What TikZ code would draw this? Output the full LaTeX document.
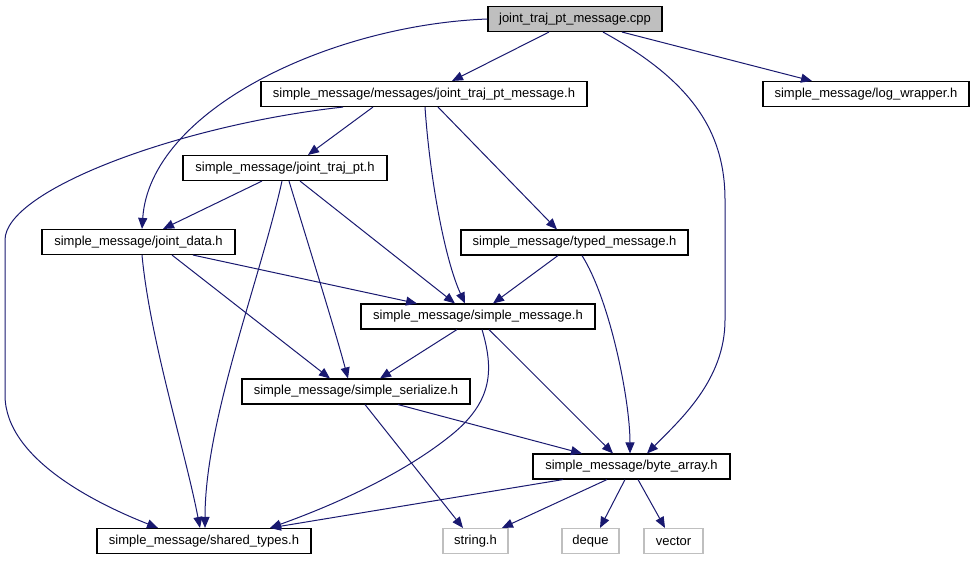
\documentclass[tikz,border=0pt]{standalone}
\usepackage{fontspec}
\setmainfont{Liberation Sans}
\usetikzlibrary{arrows.meta}
\definecolor{edgeblue}{HTML}{191970}
\definecolor{lightgrayborder}{HTML}{BFBFBF}
\definecolor{rootfill}{HTML}{BFBFBF}
\begin{document}
\begin{tikzpicture}[x=1pt,y=-1pt,
  filebox/.style={draw=black,line width=1.1pt,fill=white,minimum height=25pt,inner sep=0pt,
    font=\fontsize{13}{15}\selectfont},
  rootbox/.style={filebox,fill=rootfill},
  sysbox/.style={filebox,draw=lightgrayborder},
  dep/.style={draw=edgeblue,line width=1pt,-{Triangle[length=11pt,width=9pt]},fill=none}]
\useasboundingbox (0,0) rectangle (973,560);
% nodes
\node[rootbox,minimum width=174pt] (cpp) at (575,19) {joint\_traj\_pt\_message.cpp};
\node[filebox,minimum width=326pt] (jtpm) at (424,94) {simple\_message/messages/joint\_traj\_pt\_message.h};
\node[filebox,minimum width=206pt] (log) at (866,94) {simple\_message/log\_wrapper.h};
\node[filebox,minimum width=204pt] (jtp) at (285,168) {simple\_message/joint\_traj\_pt.h};
\node[filebox,minimum width=193pt] (jd) at (138.5,242) {simple\_message/joint\_data.h};
\node[filebox,minimum width=227pt] (tm) at (574.5,242.5) {simple\_message/typed\_message.h};
\node[filebox,minimum width=234pt] (sm) at (478,316.5) {simple\_message/simple\_message.h};
\node[filebox,minimum width=228pt] (ss) at (356,391.5) {simple\_message/simple\_serialize.h};
\node[filebox,minimum width=197pt] (ba) at (631.5,466.5) {simple\_message/byte\_array.h};
\node[filebox,minimum width=214pt] (st) at (204,541) {simple\_message/shared\_types.h};
\node[sysbox,minimum width=65pt] (str) at (475.5,541) {string.h};
\node[sysbox,minimum width=57pt] (dq) at (590.5,541) {deque};
\node[sysbox,minimum width=59pt] (vec) at (673.5,541) {vector};
% edges
\draw[dep] ([xshift=-26pt]cpp.south) -- ([xshift=28pt]jtpm.north);
\draw[dep] ([xshift=47pt]cpp.south) -- ([xshift=-54pt]log.north);
\draw[dep] (cpp.west) .. controls (330,25) and (150,110) .. ([xshift=3.5pt]jd.north);
\draw[dep] ([xshift=28pt]cpp.south) .. controls (690,80) and (725,130) .. (725,200) -- (725,320) .. controls (725,380) and (680,420) .. ([xshift=15.5pt]ba.north);
\draw[dep] ([xshift=-51pt]jtpm.south) -- ([xshift=23pt]jtp.north);
\draw[dep] ([xshift=-81pt]jtpm.south) .. controls (180,125) and (5,190) .. (5,240) -- (5,395) .. controls (5,460) and (100,505) .. ([xshift=-46pt]st.north);
\draw[dep] ([xshift=1pt]jtpm.south) .. controls (430,180) and (445,260) .. ([xshift=-13pt]sm.north);
\draw[dep] ([xshift=14pt]jtpm.south) -- ([xshift=-17.5pt]tm.north);
\draw[dep] ([xshift=-23pt]jtp.south) -- ([xshift=24.5pt]jd.north);
\draw[dep] ([xshift=-3pt]jtp.south) .. controls (260,280) and (205,420) .. ([xshift=1pt]st.north);
\draw[dep] ([xshift=4pt]jtp.south) .. controls (310,250) and (335,330) .. ([xshift=-8pt]ss.north);
\draw[dep] ([xshift=15pt]jtp.south) -- ([xshift=-23pt]sm.north);
\draw[dep] ([xshift=54.5pt]jd.south) -- ([xshift=-61pt]sm.north);
\draw[dep] ([xshift=33.5pt]jd.south) -- ([xshift=-26pt]ss.north);
\draw[dep] ([xshift=3.5pt]jd.south) .. controls (150,340) and (185,450) .. ([xshift=-4pt]st.north);
\draw[dep] ([xshift=-16.5pt]tm.south) -- ([xshift=15pt]sm.north);
\draw[dep] ([xshift=7.5pt]tm.south) .. controls (610,300) and (630,400) .. ([xshift=-1.5pt]ba.north);
\draw[dep] ([xshift=-21pt]sm.south) -- ([xshift=24pt]ss.north);
\draw[dep] ([xshift=11pt]sm.south) -- ([xshift=-18.5pt]ba.north);
\draw[dep] ([xshift=4pt]sm.south) .. controls (494,370) and (492,400) .. (455,432) .. controls (400,478) and (320,510) .. ([xshift=66pt]st.north);
\draw[dep] ([xshift=42pt]ss.south) -- ([xshift=-49.5pt]ba.north);
\draw[dep] ([xshift=9pt]ss.south) -- ([xshift=-12.5pt]str.north);
\draw[dep] ([xshift=-68.5pt]ba.south) -- ([xshift=66pt]st.north);
\draw[dep] ([xshift=-24.5pt]ba.south) -- ([xshift=26.5pt]str.north);
\draw[dep] ([xshift=-6.5pt]ba.south) -- ([xshift=9.5pt]dq.north);
\draw[dep] ([xshift=6.5pt]ba.south) -- ([xshift=-8.5pt]vec.north);
\end{tikzpicture}
\end{document}
